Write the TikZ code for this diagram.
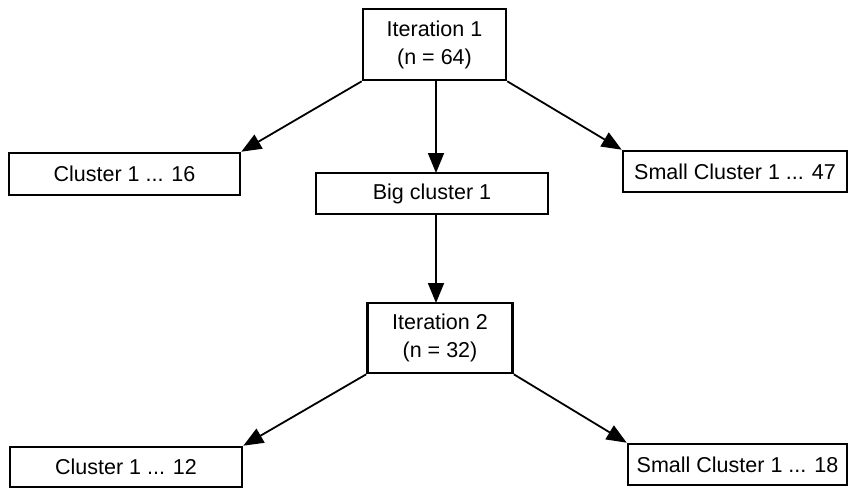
\documentclass[tikz,border=0pt]{standalone}
\usepackage{fontspec}
\setmainfont{Liberation Sans}
\usetikzlibrary{arrows.meta}
\begin{document}
\begin{tikzpicture}[x=1pt,y=-1pt,
  box/.style={draw=black,line width=2.6pt,fill=white,inner sep=0pt,
    font=\fontsize{21.5}{28}\selectfont,align=center},
  conn/.style={line width=1.8pt,-{Triangle[length=20pt,width=16pt]}}]
\useasboundingbox (0,0) rectangle (848,488);
\node[box,minimum width=143pt,minimum height=71pt] (it1) at (434.5,44.5) {Iteration 1\\(n = 64)};
\node[box,minimum width=231pt,minimum height=42pt] (c16) at (124.5,174) {Cluster 1 ... 16};
\node[box,minimum width=232pt,minimum height=41pt] (big) at (432,193.5) {Big cluster 1};
\node[box,minimum width=224pt,minimum height=41pt] (s47) at (735,171.5) {Small Cluster 1 ... 47};
\node[box,minimum width=145pt,minimum height=70pt] (it2) at (440,338) {Iteration 2\\(n = 32)};
\node[box,minimum width=232pt,minimum height=40pt] (c12) at (126,467) {Cluster 1 ... 12};
\node[box,minimum width=219pt,minimum height=41pt] (s18) at (737.5,464.5) {Small Cluster 1 ... 18};
\coordinate (it1b) at (436,80);
\coordinate (bigt) at (436,173);
\coordinate (bigb) at (436,214);
\coordinate (it2t) at (436,303);
\draw[conn] (it1.south west) -- (c16.north east);
\draw[conn] (it1b) -- (bigt);
\draw[conn] (it1.south east) -- (s47.north west);
\draw[conn] (bigb) -- (it2t);
\draw[conn] (it2.south west) -- (c12.north east);
\draw[conn] (it2.south east) -- (s18.north west);
\end{tikzpicture}
\end{document}
